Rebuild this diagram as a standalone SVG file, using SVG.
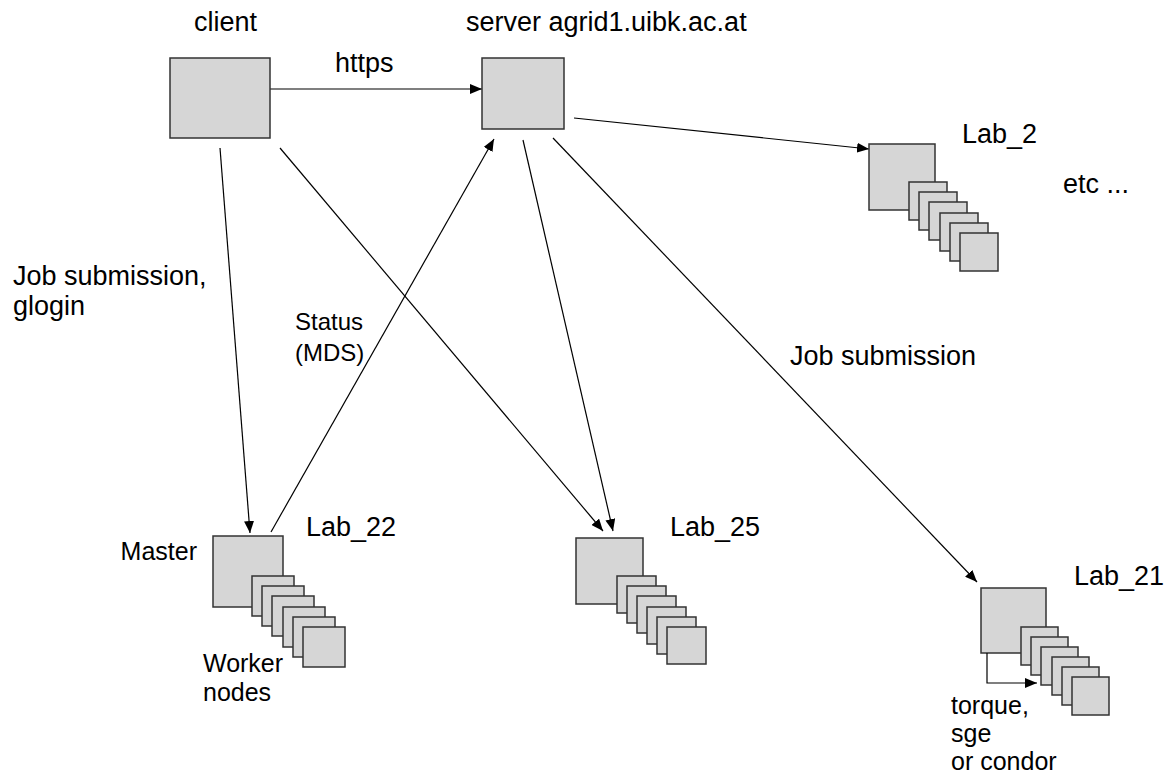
<svg xmlns="http://www.w3.org/2000/svg" width="1167" height="779" viewBox="0 0 1167 779">
<defs>
<style>
.box{fill:#d6d6d6;stroke:#333;stroke-width:1.5}
.lbl{font-family:"Liberation Sans",Arial,sans-serif;font-size:27px;fill:#000}
.sm{font-size:25px}
.xs{font-size:24px}
.con{fill:none;stroke:#000;stroke-width:1.2}
</style>
<marker id="ah" viewBox="0 0 12 10" refX="12" refY="5" markerWidth="12" markerHeight="10" markerUnits="userSpaceOnUse" orient="auto">
<path d="M0,0 L12,5 L0,10 z" fill="#000"/>
</marker>
</defs>
<rect width="1167" height="779" fill="#fff"/>
<g id="connectors">
<path class="con" d="M270,89 L482,89" marker-end="url(#ah)"/>
<path class="con" d="M220,148 L250,533" marker-end="url(#ah)"/>
<path class="con" d="M271,532 L494,139" marker-end="url(#ah)"/>
<path class="con" d="M280,148 L603,531" marker-end="url(#ah)"/>
<path class="con" d="M523,140 L613,531" marker-end="url(#ah)"/>
<path class="con" d="M574,118 L869,149" marker-end="url(#ah)"/>
<path class="con" d="M553,138 L977,582" marker-end="url(#ah)"/>
</g>
<g id="client">
<rect class="box" x="170" y="58" width="100" height="80"/>
<text class="lbl" x="194" y="31">client</text>
</g>
<g id="server">
<rect class="box" x="482" y="58" width="82" height="71"/>
<text class="lbl" x="466" y="31">server agrid1.uibk.ac.at</text>
</g>
<g id="lab2">
<rect class="box" x="869" y="144" width="66" height="66"/>
<rect class="box" x="909" y="182" width="38" height="38"/>
<rect class="box" x="919" y="192" width="38" height="38"/>
<rect class="box" x="929" y="202" width="38" height="38"/>
<rect class="box" x="940" y="213" width="38" height="38"/>
<rect class="box" x="950" y="223" width="38" height="38"/>
<rect class="box" x="960" y="233" width="38" height="38"/>
<text class="lbl" x="962" y="143">Lab_2</text>
</g>
<g id="lab22">
<rect class="box" x="213" y="536" width="70" height="71"/>
<rect class="box" x="252" y="576" width="42" height="40"/>
<rect class="box" x="262" y="586" width="42" height="40"/>
<rect class="box" x="272" y="596" width="42" height="40"/>
<rect class="box" x="283" y="607" width="42" height="40"/>
<rect class="box" x="293" y="617" width="42" height="40"/>
<rect class="box" x="303" y="627" width="42" height="40"/>
<text class="lbl" x="306" y="536">Lab_22</text>
<text class="lbl sm" x="197" y="560" text-anchor="end">Master</text>
<text class="lbl sm" x="203" y="672">Worker</text>
<text class="lbl sm" x="203" y="701">nodes</text>
</g>
<g id="lab25">
<rect class="box" x="576" y="538" width="67" height="66"/>
<rect class="box" x="617" y="576" width="39" height="37"/>
<rect class="box" x="627" y="586" width="39" height="37"/>
<rect class="box" x="637" y="596" width="39" height="37"/>
<rect class="box" x="647" y="607" width="39" height="37"/>
<rect class="box" x="657" y="617" width="39" height="37"/>
<rect class="box" x="667" y="627" width="39" height="37"/>
<text class="lbl" x="670" y="536">Lab_25</text>
</g>
<g id="lab21">
<rect class="box" x="981" y="588" width="65" height="65"/>
<path class="con" d="M987,653 V683 H1037" marker-end="url(#ah)"/>
<rect class="box" x="1021" y="627" width="37" height="38"/>
<rect class="box" x="1031" y="637" width="37" height="38"/>
<rect class="box" x="1041" y="647" width="37" height="38"/>
<rect class="box" x="1052" y="657" width="37" height="38"/>
<rect class="box" x="1062" y="667" width="37" height="38"/>
<rect class="box" x="1072" y="677" width="37" height="38"/>
<text class="lbl" x="1074" y="585">Lab_21</text>
<text class="lbl sm" x="951" y="714">torque,</text>
<text class="lbl sm" x="951" y="742">sge</text>
<text class="lbl sm" x="951" y="770">or condor</text>
</g>
<g id="labels">
<text class="lbl" x="335" y="72">https</text>
<text class="lbl" x="1063" y="193">etc ...</text>
<text class="lbl" x="13" y="285">Job submission,</text>
<text class="lbl" x="13" y="315">glogin</text>
<text class="lbl xs" x="295" y="330">Status</text>
<text class="lbl xs" x="295" y="361">(MDS)</text>
<text class="lbl" x="790" y="365">Job submission</text>
</g>
</svg>
